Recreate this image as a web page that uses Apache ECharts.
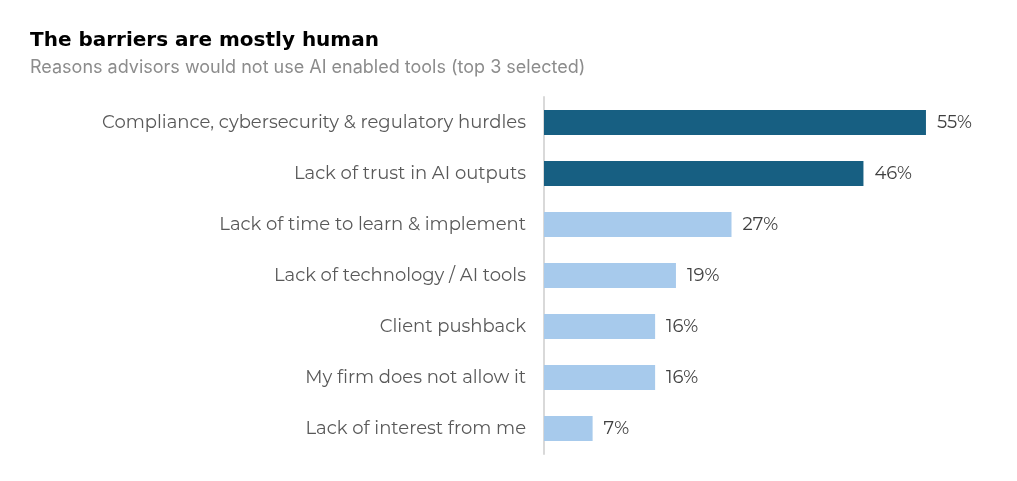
<!DOCTYPE html>
<html>
<head>
<meta charset="utf-8">
<script src="https://cdn.jsdelivr.net/npm/echarts@6/dist/echarts.min.js"></script>
<style>
  html, body { margin: 0; padding: 0; background: #fff; }
  #chart { width: 1017px; height: 481px; }
</style>
</head>
<body>
<div id="chart"></div>
<script>
// data
const categories = [
  'Compliance, cybersecurity & regulatory hurdles',
  'Lack of trust in AI outputs',
  'Lack of time to learn & implement',
  'Lack of technology / AI tools',
  'Client pushback',
  'My firm does not allow it',
  'Lack of interest from me'
];
const values = [55, 46, 27, 19, 16, 16, 7];
const highlighted = [true, true, false, false, false, false, false];

const DARK = '#175f82';
const LIGHT = '#a7caec';

const chart = echarts.init(document.getElementById('chart'));

chart.setOption({
  animation: false,
  title: {
    text: 'The barriers are mostly human',
    subtext: 'Reasons advisors would not use AI enabled tools (top 3 selected)',
    left: 30,
    top: 31,
    padding: 0,
    itemGap: 8,
    textStyle: {
      fontFamily: 'DejaVu Sans',
      fontWeight: 'bold',
      fontSize: 20,
      color: '#000'
    },
    subtextStyle: {
      fontFamily: 'Inter',
      fontSize: 18,
      color: '#8c8c8c'
    }
  },
  grid: {
    left: 544,
    top: 97,
    width: 451.4,
    height: 357
  },
  xAxis: {
    type: 'value',
    min: 0,
    max: 65,
    show: false
  },
  yAxis: {
    type: 'category',
    data: categories,
    inverse: true,
    axisLine: { show: true, lineStyle: { color: '#d9d9d9', width: 2 } },
    axisTick: { show: false },
    axisLabel: {
      margin: 18,
      fontFamily: 'Montserrat, Noto Sans',
      fontSize: 18,
      color: '#595959'
    }
  },
  series: [{
    type: 'bar',
    barWidth: 25,
    data: values.map((v, i) => ({
      value: v,
      itemStyle: { color: highlighted[i] ? DARK : LIGHT }
    })),
    label: {
      show: true,
      position: 'right',
      distance: 11,
      formatter: '{c}%',
      fontFamily: 'Montserrat, Noto Sans',
      fontSize: 18,
      color: '#404040'
    }
  }]
});
</script>
</body>
</html>
